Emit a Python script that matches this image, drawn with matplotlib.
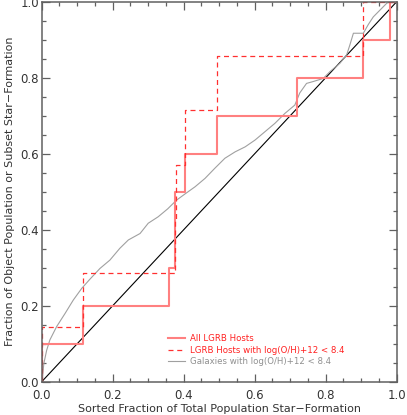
"""Cumulative star-formation fraction of LGRB hosts versus the total galaxy population."""
import numpy as np
import matplotlib
matplotlib.use("Agg")
import matplotlib.pyplot as plt
from matplotlib.ticker import MultipleLocator

# sorted star-formation fraction at which each LGRB host enters
all_hosts_x = [0.0, 0.115, 0.359, 0.3755, 0.3755, 0.404, 0.493, 0.718, 0.906, 0.981]
lowz_hosts_x = [0.0, 0.115, 0.3755, 0.379, 0.404, 0.493, 0.906]

# galaxies with log(O/H)+12 < 8.4
gal_x = [0.000, 0.003, 0.006, 0.014, 0.023, 0.042, 0.066, 0.089, 0.113, 0.136,
         0.164, 0.192, 0.220, 0.244, 0.277, 0.300, 0.328, 0.355, 0.380, 0.405,
         0.432, 0.460, 0.488, 0.516, 0.545, 0.573, 0.601, 0.629, 0.657, 0.685,
         0.713, 0.727, 0.746, 0.765, 0.793, 0.812, 0.840, 0.859, 0.868, 0.878,
         0.906, 0.920, 0.934, 0.953, 0.972, 0.985, 1.000]
gal_y = [0.000, 0.020, 0.048, 0.083, 0.110, 0.145, 0.180, 0.215, 0.246, 0.270,
         0.298, 0.320, 0.351, 0.373, 0.390, 0.417, 0.434, 0.455, 0.478, 0.495,
         0.513, 0.535, 0.562, 0.588, 0.605, 0.618, 0.636, 0.658, 0.680, 0.706,
         0.728, 0.760, 0.785, 0.790, 0.798, 0.816, 0.838, 0.860, 0.886, 0.917,
         0.917, 0.940, 0.960, 0.978, 0.996, 1.000, 1.000]

labels = ["All LGRB Hosts",
          "LGRB Hosts with log(O/H)+12 < 8.4",
          "Galaxies with log(O/H)+12 < 8.4"]


def step_arrays(xs):
    n = len(xs)
    x = [0.0] + list(xs) + [1.0]
    y = [0.0] + list(np.arange(1, n + 1) / n) + [1.0]
    return x, y


def main():
    axis_col = "#606060"
    text_col = "#333333"
    fig = plt.figure(figsize=(4.07, 4.15), dpi=100)
    ax = fig.add_axes([0.1025, 0.0802, 0.8722, 0.9157])

    ax.plot([0, 1], [0, 1], color="black", lw=0.8)
    ax.plot(gal_x, gal_y, color="#a0a0a0", lw=0.8, label=labels[2])

    x, y = step_arrays(all_hosts_x)
    ax.step(x, y, where="post", color="#ff8080", lw=1.5, label=labels[0])
    x, y = step_arrays(lowz_hosts_x)
    ax.step(x, y, where="post", color="#ff3030", lw=0.9, ls=(0, (4, 3)),
            label=labels[1])

    ax.set_xlim(0, 1)
    ax.set_ylim(0, 1)
    ax.xaxis.set_major_locator(MultipleLocator(0.2))
    ax.yaxis.set_major_locator(MultipleLocator(0.2))
    ax.xaxis.set_minor_locator(MultipleLocator(0.05))
    ax.yaxis.set_minor_locator(MultipleLocator(0.05))
    ax.tick_params(which="both", direction="in", top=True, right=True,
                   color=axis_col, width=0.9, labelsize=8.5, labelcolor=text_col)
    ax.tick_params(which="major", length=6)
    ax.tick_params(which="minor", length=3)
    ax.tick_params(axis="x", pad=5)
    ax.tick_params(axis="y", pad=2)
    for s in ax.spines.values():
        s.set_color(axis_col)
        s.set_linewidth(1.1)

    ax.set_xlabel("Sorted Fraction of Total Population Star\u2212Formation",
                  fontsize=8, color=text_col, labelpad=2)
    ax.set_ylabel("Fraction of Object Population or Subset Star\u2212Formation",
                  fontsize=8, color=text_col, labelpad=4)

    h, l = ax.get_legend_handles_labels()
    order = [1, 2, 0]
    leg = ax.legend([h[i] for i in order], [l[i] for i in order],
                    loc="lower left", bbox_to_anchor=(0.345, 0.033), frameon=False,
                    fontsize=6.2, handlelength=2.0, handletextpad=0.6,
                    labelspacing=0.25, borderaxespad=0)
    for t, c in zip(leg.get_texts(), ["#ff2020", "#ff2020", "#909090"]):
        t.set_color(c)

    fig.savefig("out.png", dpi=100)


if __name__ == "__main__":
    main()
